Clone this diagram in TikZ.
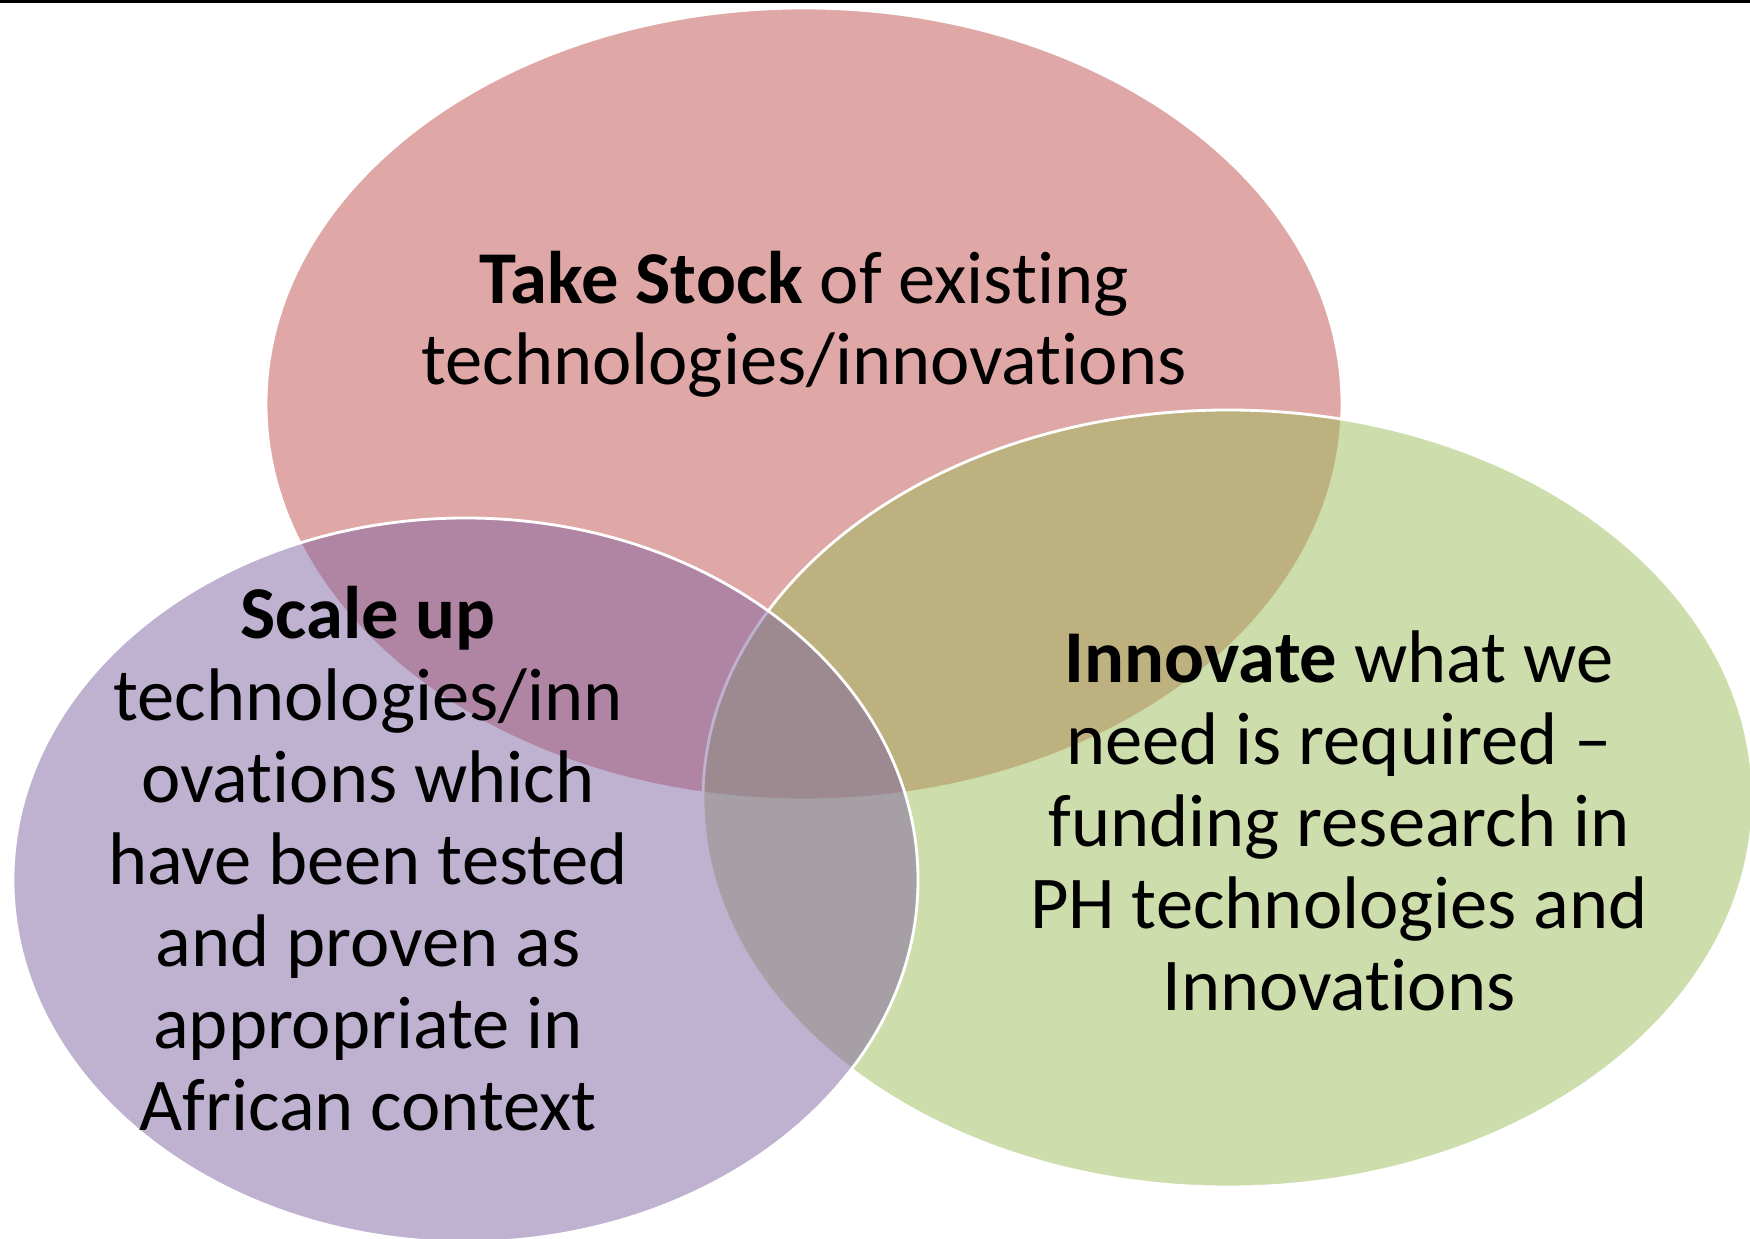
\documentclass[tikz,border=0pt]{standalone}
\usepackage{fontspec}
\setmainfont{Carlito}[Ligatures=NoCommon]
\usepackage{xcolor}
\definecolor{stockred}{HTML}{C0504D}
\definecolor{innogreen}{HTML}{9BBB59}
\definecolor{scalepurple}{HTML}{8064A2}

\begin{document}
\begin{tikzpicture}[x=1cm,y=1cm,
  venn/.style={draw=white,line width=0.8pt,fill opacity=0.5},
  lbl/.style={align=center,anchor=base,inner sep=0pt,
    font=\fontsize{21.2pt}{23.3pt}\selectfont}]
\useasboundingbox (0,0) rectangle (17.5,12.38);
\clip (0,0) rectangle (17.5,12.38);
\fill [black] (0,12.35) rectangle (17.5,12.38);
\draw [venn,fill=stockred] (8.04,8.34) ellipse (5.38cm and 3.96cm);
\draw [venn,fill=innogreen] (12.28,4.395) ellipse (5.25cm and 3.885cm);
\draw [venn,fill=scalepurple] (4.655,3.58) ellipse (4.525cm and 3.62cm);
% base anchor sits on the last line
\node [lbl] (stock) at (8.04,8.53) {\textbf{Take Stock} of existing\\technologies/innovations};
\node [lbl] (scale) at (3.68,1.08) {\textbf{Scale up}\\technologies/inn\\ovations which\\have been tested\\and proven as\\appropriate in\\African context};
\node [lbl] (innovate) at (13.39,2.28) {\textbf{Innovate} what we\\need is required --\\funding research in\\PH technologies and\\Innovations};
\end{tikzpicture}
\end{document}
